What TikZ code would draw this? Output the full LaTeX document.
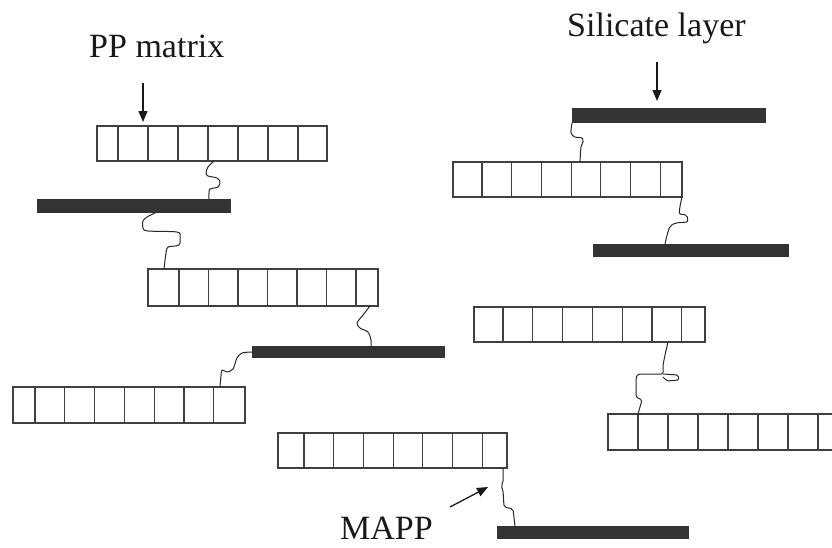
\documentclass[tikz,border=0pt]{standalone}
\usepackage{fontspec}
\setmainfont{Liberation Serif}
\usetikzlibrary{arrows.meta}

\tikzset{
  cell/.style={draw=black!75, line width=1.1pt},
  chainbox/.style={draw=black!75, line width=1.2pt, rectangle, inner sep=0pt, outer sep=0pt, anchor=north west},
  silbar/.style={fill=black!80, draw=none, rectangle, inner sep=0pt, outer sep=0pt, anchor=north west},
  tether/.style={draw=black!85, line width=1pt, line join=round, line cap=round},
  pointer/.style={draw=black!90, line width=1.3pt, -{Triangle[length=11pt,width=9pt]}},
  caption/.style={font=\fontsize{34}{40}\selectfont, text=black!90, inner sep=0pt, anchor=base west},
}

% polymer chain of cells: name, left, top, right, bottom, first divider, divider spacing
\newcommand\ppchain[7]{%
  \node[chainbox, minimum width={#4-#2}, minimum height={#5-#3}] (#1) at (#2,#3) {};
  \foreach \k in {0,...,6} \draw[cell] ({#6+\k*#7},#3) -- ({#6+\k*#7},#5);
}
% silicate platelet: name, left, top, right, bottom
\newcommand\platelet[5]{%
  \node[silbar, minimum width={#4-#2}, minimum height={#5-#3}] (#1) at (#2,#3) {};
}

\begin{document}
\begin{tikzpicture}[x=1pt, y=-1pt]
\useasboundingbox (0,0) rectangle (832,547);
\clip (0,0) rectangle (832,547);

% labels
\node[caption] (lblpp)  at (89,57)  {PP matrix};
\node[caption] (lblsil) at (567,36) {Silicate layer};
\node[caption] (lblmapp) at (340,539) {MAPP};

% PP chains
\ppchain{c1}{97}{126}{327}{161}{118}{30}
\ppchain{c3}{148}{269}{378}{306}{179}{29.5}
\ppchain{c5}{13}{387}{245}{423}{35}{29.8}
\ppchain{c6}{278}{433}{507}{468}{304}{29.7}
\ppchain{c10}{453}{162}{682}{197}{482}{29.7}
\ppchain{c12}{474}{307}{705}{342}{503}{29.8}
\ppchain{c13}{608}{414}{850}{450}{638}{30}

% silicate layers
\platelet{b2}{37}{199}{231}{213}
\platelet{b4}{252}{346}{445}{358}
\platelet{b7}{497}{526}{689}{539}
\platelet{b9}{572}{108}{766}{123}
\platelet{b11}{593}{244}{789}{257}

% pointer arrows
\coordinate (ppfrom) at (143,83);   \coordinate (ppto) at (143,122);
\coordinate (silfrom) at (657,62);  \coordinate (silto) at (657,101);
\coordinate (mappfrom) at (450,507); \coordinate (mappto) at (488,487);
\draw[pointer] (ppfrom) -- (ppto);
\draw[pointer] (silfrom) -- (silto);
\draw[pointer] (mappfrom) -- (mappto);

% MAPP tethers between chains and layers
\coordinate (ta1) at (214,161); \coordinate (ta2) at (209,199);
\draw[tether] plot[smooth, tension=0.5] coordinates {(ta1) (208,167) (206,173) (208,176) (217,178) (220,182) (218,187) (210,189) (209,193) (ta2)};

\coordinate (tb1) at (155,213); \coordinate (tb2) at (164,269);
\draw[tether] plot[smooth, tension=0.5] coordinates {(tb1) (147,217) (143,221) (143,228) (148,231) (177,232) (180,237) (179,245) (168,247) (166,253) (tb2)};

\coordinate (tc1) at (370,306); \coordinate (tc2) at (371,346);
\draw[tether] plot[smooth, tension=0.5] coordinates {(tc1) (363,315) (357,323) (360,328) (368,332) (371,340) (tc2)};

\coordinate (td1) at (252,352); \coordinate (td2) at (220,387);
\draw[tether] plot[smooth, tension=0.5] coordinates {(td1) (242,353) (237,358) (233,369) (227,372) (222,370) (221,376) (td2)};

\coordinate (te1) at (503,468); \coordinate (te2) at (515,526);
\draw[tether, rounded corners=2pt] (te1) -- (503,483) -- (501,486) -- (503,490) -- (504,507) -- (513,509) -- (te2);

\coordinate (tf1) at (572,123); \coordinate (tf2) at (580,162);
\draw[tether] plot[smooth, tension=0.5] coordinates {(tf1) (571,133) (575,137) (582,138) (583,142) (581,147) (tf2)};

\coordinate (tg1) at (682,197); \coordinate (tg2) at (665,244);
\draw[tether, rounded corners=2pt] (tg1) -- (680,206) -- (679,214) -- (687,215) -- (688,222) -- (675,223) -- (670,226) -- (667,235) -- (tg2);

\coordinate (th1) at (668,342); \coordinate (th2) at (638,414);
\draw[tether, rounded corners=1.5pt] (th1) -- (665,355) -- (663,365) -- (663,374) -- (638,374) -- (636,378) -- (636,397) -- (642,400) -- (th2);
\draw[tether, rounded corners=1.5pt] (663,374) -- (678,375) -- (679,380) -- (667,381) -- (663,377);

\end{tikzpicture}
\end{document}
